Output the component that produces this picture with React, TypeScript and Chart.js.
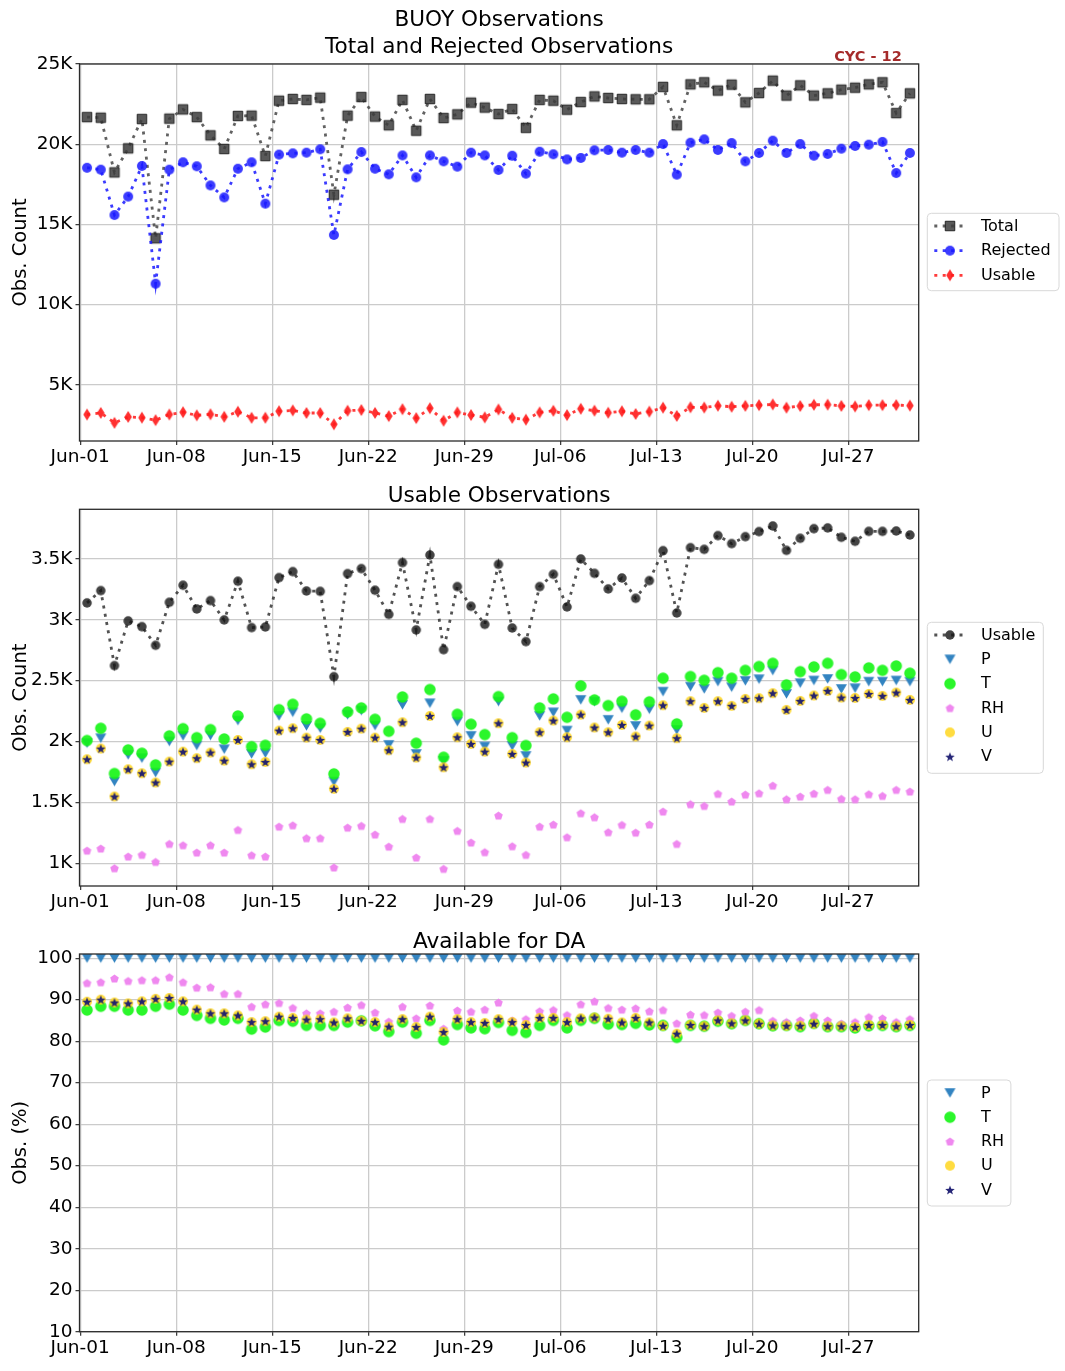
import React, { useEffect, useRef } from 'react';
import { Chart, registerables } from 'chart.js';

Chart.register(...registerables);

const FONT = '"DejaVu Sans", "Liberation Sans", sans-serif';
const PAGE_W = 1065;
const PLOT_LEFT = 79.5;
const PLOT_RIGHT = 918.7;
const GRID = '#cbcbcb';

// 12Z analysis cycles, expressed as days after Jun-01 00Z
const cycleDays: number[] = Array.from({ length: 61 }, (_, i) => i + 0.5);
const dayRange: [number, number] = [-0.05, 61.14];

const dateTickDays = [0, 7, 14, 21, 28, 35, 42, 49, 56];
const dateTickLabels = ['Jun-01', 'Jun-08', 'Jun-15', 'Jun-22', 'Jun-29', 'Jul-06', 'Jul-13', 'Jul-20', 'Jul-27'];

const totalTicks = [5000, 10000, 15000, 20000, 25000];
const usableTicks = [1000, 1500, 2000, 2500, 3000, 3500];
const percentTicks = [10, 20, 30, 40, 50, 60, 70, 80, 90, 100];

// ---- counts per cycle ----
const totalObs = [
  21690, 21650, 18240, 19740, 21570, 14130, 21590, 22170, 21690, 20550,
  19700, 21760, 21780, 19260, 22710, 22820, 22760, 22900, 16850, 21780,
  22940, 21720, 21180, 22760, 20840, 22820, 21630, 21860, 22590, 22280,
  21880, 22190, 21020, 22760, 22710, 22150, 22630, 22980, 22880, 22820,
  22800, 22800, 23570, 21180, 23730, 23860, 23340, 23710, 22610, 23190,
  23960, 23030, 23670, 23030, 23170, 23400, 23520, 23730, 23860, 21940, 23170,
];
const rejectedObs = [
  18530, 18410, 15580, 16730, 18640, 11300, 18410, 18870, 18620, 17430,
  16680, 18470, 18870, 16290, 19350, 19430, 19470, 19680, 14340, 18430,
  19510, 18470, 18120, 19300, 17930, 19300, 18930, 18600, 19470, 19300,
  18390, 19280, 18160, 19530, 19370, 19050, 19140, 19620, 19640, 19470,
  19640, 19470, 20010, 18100, 20090, 20300, 19640, 20070, 18930, 19450,
  20220, 19450, 20010, 19280, 19390, 19720, 19890, 19970, 20140, 18200, 19450,
];
const usableObs = [
  3139, 3240, 2624, 2991, 2944, 2791, 3144, 3284, 3089, 3158,
  2999, 3317, 2936, 2941, 3347, 3396, 3237, 3234, 2533, 3380,
  3421, 3243, 3045, 3470, 2917, 3533, 2755, 3273, 3111, 2963,
  3456, 2933, 2821, 3273, 3374, 3106, 3500, 3382, 3254, 3344,
  3177, 3322, 3568, 3056, 3593, 3579, 3692, 3626, 3683, 3725,
  3771, 3571, 3670, 3749, 3755, 3678, 3645, 3727, 3727, 3730, 3697,
];
const pCount = [
  1986, 2027, 1671, 1890, 1863, 1745, 2000, 2046, 1967, 2049,
  1937, 2172, 1898, 1904, 2210, 2240, 2128, 2109, 1671, 2219,
  2254, 2131, 1972, 2301, 1898, 2314, 1841, 2164, 2046, 1959,
  2328, 1964, 1882, 2210, 2240, 2090, 2342, 2328, 2178, 2273,
  2128, 2265, 2410, 2095, 2451, 2432, 2492, 2446, 2498, 2512,
  2583, 2391, 2479, 2501, 2514, 2432, 2438, 2492, 2492, 2501, 2492,
];
const tCount = [
  2008, 2109, 1737, 1931, 1904, 1808, 2046, 2106, 2032, 2098,
  2021, 2210, 1958, 1969, 2262, 2306, 2186, 2150, 1734, 2243,
  2276, 2183, 2084, 2366, 1986, 2427, 1871, 2224, 2142, 2057,
  2369, 2032, 1967, 2276, 2350, 2199, 2457, 2342, 2295, 2331,
  2219, 2326, 2520, 2145, 2534, 2503, 2566, 2520, 2585, 2616,
  2643, 2465, 2574, 2613, 2643, 2550, 2531, 2605, 2585, 2621, 2561,
];
const rhCount = [
  1104, 1121, 959, 1055, 1069, 1011, 1159, 1148, 1088, 1148,
  1088, 1274, 1066, 1055, 1301, 1312, 1206, 1206, 965, 1293,
  1307, 1236, 1137, 1364, 1047, 1364, 954, 1266, 1170, 1091,
  1392, 1140, 1069, 1301, 1318, 1214, 1411, 1378, 1255, 1315,
  1252, 1318, 1425, 1159, 1485, 1471, 1570, 1507, 1564, 1575,
  1638, 1526, 1548, 1572, 1603, 1529, 1526, 1567, 1553, 1603, 1589,
];
// U and V winds arrive together, so their counts are identical
const windCount = [
  1854, 1942, 1548, 1772, 1739, 1663, 1835, 1917, 1863, 1909,
  1843, 2013, 1813, 1832, 2090, 2109, 2032, 2013, 1611, 2079,
  2106, 2032, 1928, 2158, 1868, 2210, 1788, 2035, 1980, 1917,
  2150, 1898, 1827, 2076, 2172, 2035, 2221, 2115, 2076, 2136,
  2041, 2131, 2298, 2027, 2331, 2276, 2331, 2293, 2350, 2356,
  2397, 2260, 2334, 2378, 2416, 2361, 2358, 2391, 2375, 2402, 2342,
];

// ---- percentage available for DA ----
const pPct = [
  100, 100, 100, 100, 100, 100, 100, 100, 100, 100,
  100, 100, 100, 100, 100, 100, 100, 100, 100, 100,
  100, 100, 100, 100, 100, 100, 100, 100, 100, 100,
  100, 100, 100, 100, 100, 100, 100, 100, 100, 100,
  100, 100, 100, 100, 100, 100, 100, 100, 100, 100,
  100, 100, 100, 100, 100, 100, 100, 100, 100, 100, 100,
];
const tPct = [
  87.5, 88.4, 88.4, 87.5, 87.5, 88.4, 88.9, 87.5, 86.2, 85.5,
  85.1, 85.5, 82.9, 83.4, 85.0, 84.8, 83.8, 83.8, 83.8, 84.6,
  84.9, 83.7, 82.3, 84.6, 81.9, 85.0, 80.3, 84.0, 83.2, 83.0,
  84.5, 82.6, 82.1, 83.8, 85.0, 83.2, 85.0, 85.5, 84.1, 84.0,
  84.3, 83.9, 83.8, 80.9, 83.8, 83.6, 84.8, 84.2, 85.0, 84.2,
  83.7, 83.8, 83.5, 84.3, 83.5, 83.5, 83.2, 83.7, 83.8, 83.5, 83.8,
];
const rhPct = [
  94.0, 94.2, 95.1, 94.5, 94.7, 94.7, 95.4, 94.2, 92.9, 93.0,
  91.4, 91.4, 88.3, 88.9, 89.2, 88.0, 86.7, 86.7, 87.1, 88.1,
  88.7, 86.9, 84.7, 88.3, 85.5, 88.6, 83.0, 87.4, 87.1, 87.6,
  89.3, 85.0, 85.3, 87.2, 87.5, 86.3, 88.9, 89.6, 88.0, 87.6,
  87.9, 87.2, 87.5, 84.3, 86.4, 86.3, 86.9, 86.1, 87.1, 87.5,
  84.9, 84.6, 85.0, 86.1, 85.0, 84.2, 84.6, 85.8, 85.5, 84.6, 85.3,
];
const windPct = [
  89.5, 90.0, 89.3, 89.1, 89.6, 90.2, 90.4, 89.6, 87.6, 86.7,
  86.7, 86.2, 84.6, 84.8, 85.9, 85.6, 85.2, 85.3, 84.5, 85.5,
  84.9, 84.6, 83.5, 85.3, 83.4, 85.9, 82.2, 85.3, 84.6, 84.4,
  85.3, 84.6, 83.9, 85.6, 85.6, 84.6, 85.5, 85.7, 85.4, 84.5,
  85.6, 84.5, 83.7, 81.8, 83.9, 83.6, 85.0, 84.3, 85.0, 84.2,
  83.8, 83.7, 83.7, 84.2, 83.6, 83.6, 83.4, 83.9, 83.9, 83.6, 83.9,
];

// ---- marker glyphs rendered once into small canvases ----
function marker(shape: string, w: number, h: number, fill: string, edge?: string, edgeWidth = 1): HTMLCanvasElement {
  const pad = 2;
  const cw = Math.ceil(w + pad * 2);
  const ch = Math.ceil(h + pad * 2);
  const c = document.createElement('canvas');
  c.width = cw;
  c.height = ch;
  const g = c.getContext('2d') as CanvasRenderingContext2D;
  g.translate(cw / 2, ch / 2);
  const rx = w / 2;
  const ry = h / 2;
  g.beginPath();
  if (shape === 'circle') {
    g.ellipse(0, 0, rx, ry, 0, 0, Math.PI * 2);
  } else if (shape === 'square') {
    g.rect(-rx, -ry, w, h);
  } else if (shape === 'thinDiamond') {
    g.moveTo(0, -ry);
    g.lineTo(rx, 0);
    g.lineTo(0, ry);
    g.lineTo(-rx, 0);
    g.closePath();
  } else if (shape === 'triangleDown') {
    g.moveTo(-rx, -ry);
    g.lineTo(rx, -ry);
    g.lineTo(0, ry);
    g.closePath();
  } else if (shape === 'pentagon') {
    for (let k = 0; k < 5; k++) {
      const a = -Math.PI / 2 + (k * 2 * Math.PI) / 5;
      const px = rx * Math.cos(a);
      const py = ry * Math.sin(a) + ry * 0.1;
      if (k === 0) g.moveTo(px, py);
      else g.lineTo(px, py);
    }
    g.closePath();
  } else if (shape === 'star') {
    for (let k = 0; k < 10; k++) {
      const a = -Math.PI / 2 + (k * Math.PI) / 5;
      const r = k % 2 === 0 ? 1 : 0.42;
      const px = rx * r * Math.cos(a);
      const py = ry * r * Math.sin(a) + ry * 0.1;
      if (k === 0) g.moveTo(px, py);
      else g.lineTo(px, py);
    }
    g.closePath();
  }
  g.fillStyle = fill;
  g.fill();
  if (edge) {
    g.lineWidth = edgeWidth;
    g.strokeStyle = edge;
    g.stroke();
  }
  return c;
}

const DOTS = [3, 5.4];

function series(label: string, values: number[], glyph: HTMLCanvasElement, lineColor?: string) {
  return {
    label,
    data: values.map((y, i) => ({ x: cycleDays[i], y })),
    pointStyle: glyph,
    pointRadius: 5,
    pointHoverRadius: 5,
    showLine: !!lineColor,
    borderColor: lineColor || 'rgba(0,0,0,0)',
    backgroundColor: lineColor || 'rgba(0,0,0,0)',
    borderWidth: 2.8,
    borderDash: DOTS,
    borderCapStyle: 'butt',
    tension: 0,
    fill: false,
  };
}

interface TitleSpec {
  text: string;
  y: number;
  size: number;
  x?: number;
  bold?: boolean;
  color?: string;
}

interface PanelSpec {
  height: number;
  plotTop: number;
  xAxisH: number;
  yRange: [number, number];
  yTicks: number[];
  yFmt: (v: number) => string;
  yTitle: string;
  datasets: any[];
  titles: TitleSpec[];
  legend: { top: number; width: number; height: number; rowTop: number; rowStep: number };
}

function decor(spec: PanelSpec) {
  return {
    id: 'panelDecor',
    afterDatasetsDraw(chart: any) {
      const { ctx, chartArea: a } = chart;
      ctx.save();
      ctx.strokeStyle = '#2a2a2a';
      ctx.lineWidth = 1.3;
      ctx.strokeRect(a.left, a.top, a.right - a.left, a.bottom - a.top);
      ctx.restore();
    },
    afterDraw(chart: any) {
      const { ctx, chartArea: a } = chart;
      ctx.save();
      ctx.textBaseline = 'alphabetic';
      ctx.textAlign = 'center';
      for (const t of spec.titles) {
        ctx.font = `${t.bold ? 'bold ' : ''}${t.size}px ${FONT}`;
        ctx.fillStyle = t.color || '#000';
        ctx.fillText(t.text, t.x ?? (a.left + a.right) / 2, t.y);
      }

      const L = spec.legend;
      const left = 927.3;
      ctx.beginPath();
      ctx.roundRect(left, L.top, L.width, L.height, 4);
      ctx.fillStyle = 'rgba(255,255,255,0.85)';
      ctx.fill();
      ctx.strokeStyle = '#d8d8d8';
      ctx.lineWidth = 1;
      ctx.stroke();

      ctx.font = `16px ${FONT}`;
      ctx.textAlign = 'left';
      ctx.textBaseline = 'middle';
      chart.data.datasets.forEach((ds: any, i: number) => {
        const y = L.rowTop + i * L.rowStep;
        if (ds.showLine) {
          ctx.save();
          ctx.setLineDash(ds.borderDash);
          ctx.lineCap = 'butt';
          ctx.strokeStyle = ds.borderColor;
          ctx.lineWidth = ds.borderWidth;
          ctx.beginPath();
          ctx.moveTo(934.3, y);
          ctx.lineTo(966.7, y);
          ctx.stroke();
          ctx.restore();
        }
        const img = ds.pointStyle as HTMLCanvasElement;
        ctx.drawImage(img, 950 - img.width / 2, y - img.height / 2);
        ctx.fillStyle = '#000';
        ctx.fillText(ds.label, 981, y + 0.5);
      });
      ctx.restore();
    },
  };
}

function buildChart(canvas: HTMLCanvasElement, spec: PanelSpec) {
  const n = spec.datasets.length;
  const tickFont = { family: FONT, size: 18.5 };
  return new Chart(canvas, {
    type: 'line',
    data: { datasets: spec.datasets.map((d, i) => ({ ...d, order: n - i })) },
    options: {
      responsive: false,
      animation: false,
      devicePixelRatio: 1,
      events: [],
      layout: { padding: { top: spec.plotTop, right: PAGE_W - PLOT_RIGHT, bottom: 0, left: 0 } },
      plugins: { legend: { display: false }, tooltip: { enabled: false }, title: { display: false } },
      scales: {
        x: {
          type: 'linear',
          min: dayRange[0],
          max: dayRange[1],
          afterBuildTicks: (s: any) => {
            s.ticks = dateTickDays.map((v) => ({ value: v }));
          },
          afterFit: (s: any) => {
            s.height = spec.xAxisH;
          },
          ticks: {
            autoSkip: false,
            maxRotation: 0,
            minRotation: 0,
            padding: 1.5,
            color: '#000',
            font: tickFont,
            callback: (_v: any, idx: number) => dateTickLabels[idx] ?? '',
          },
          grid: { color: GRID, lineWidth: 1.3, tickLength: 4, tickColor: '#333', tickWidth: 1.2 },
          border: { display: false },
        },
        y: {
          type: 'linear',
          min: spec.yRange[0],
          max: spec.yRange[1],
          afterBuildTicks: (s: any) => {
            s.ticks = spec.yTicks.map((v) => ({ value: v }));
          },
          afterFit: (s: any) => {
            s.width = PLOT_LEFT;
          },
          ticks: {
            padding: 3,
            color: '#000',
            font: tickFont,
            callback: (v: any) => spec.yFmt(Number(v)),
          },
          grid: { color: GRID, lineWidth: 1.3, tickLength: 4, tickColor: '#333', tickWidth: 1.2 },
          border: { display: false },
          title: {
            display: true,
            text: spec.yTitle,
            color: '#000',
            font: { family: FONT, size: 19.5 },
            padding: { top: 9.5, bottom: 0 },
          },
        },
      },
    } as any,
    plugins: [decor(spec) as any],
  });
}

const kFmt = (v: number) => `${v / 1000}K`;

function panelSpecs(): PanelSpec[] {
  const pGlyph = marker('triangleDown', 11, 9.5, 'rgba(40,125,190,0.95)');
  const tGlyph = marker('circle', 11.5, 11.5, 'rgba(20,245,20,0.9)');
  const rhGlyph = marker('pentagon', 9, 9, 'rgba(238,130,238,0.95)');
  const uGlyph = marker('circle', 10, 10, 'rgba(255,214,30,0.85)');
  const vGlyph = marker('star', 10, 10, 'rgba(25,25,112,0.95)');

  return [
    {
      height: 475,
      plotTop: 64,
      xAxisH: 34,
      yRange: [1490, 25000],
      yTicks: totalTicks,
      yFmt: kFmt,
      yTitle: 'Obs. Count',
      datasets: [
        series('Total', totalObs, marker('square', 9.5, 9.5, 'rgba(60,60,60,0.85)', 'rgba(25,25,25,0.9)', 1), 'rgba(70,70,70,0.85)'),
        series('Rejected', rejectedObs, marker('circle', 10, 10, 'rgba(25,25,255,0.85)'), 'rgba(25,25,255,0.85)'),
        series('Usable', usableObs, marker('thinDiamond', 7.5, 12, 'rgba(255,25,25,0.9)'), 'rgba(255,25,25,0.85)'),
      ],
      titles: [
        { text: 'BUOY Observations', y: 26, size: 21.6 },
        { text: 'Total and Rejected Observations', y: 53.3, size: 21.6 },
        { text: 'CYC - 12', y: 60.5, size: 14.5, bold: true, color: '#a52a2a', x: 868 },
      ],
      legend: { top: 213.3, width: 131.7, height: 77.4, rowTop: 226, rowStep: 24.65 },
    },
    {
      height: 445,
      plotTop: 34.3,
      xAxisH: 34,
      yRange: [813, 3908],
      yTicks: usableTicks,
      yFmt: kFmt,
      yTitle: 'Obs. Count',
      datasets: [
        series('Usable', usableObs, marker('circle', 9.5, 9.5, 'rgba(20,20,20,0.8)'), 'rgba(40,40,40,0.8)'),
        series('P', pCount, pGlyph),
        series('T', tCount, tGlyph),
        series('RH', rhCount, rhGlyph),
        series('U', windCount, uGlyph),
        series('V', windCount, vGlyph),
      ],
      titles: [{ text: 'Usable Observations', y: 26.7, size: 21.6 }],
      legend: { top: 147.3, width: 116, height: 151, rowTop: 160, rowStep: 24.35 },
    },
    {
      height: 451,
      plotTop: 34,
      xAxisH: 39.3,
      yRange: [10, 101],
      yTicks: percentTicks,
      yFmt: (v: number) => `${v}`,
      yTitle: 'Obs. (%)',
      datasets: [
        series('P', pPct, pGlyph),
        series('T', tPct, tGlyph),
        series('RH', rhPct, rhGlyph),
        series('U', windPct, uGlyph),
        series('V', windPct, vGlyph),
      ],
      titles: [{ text: 'Available for DA', y: 28.3, size: 21.6 }],
      legend: { top: 160, width: 83.6, height: 126, rowTop: 173, rowStep: 24.25 },
    },
  ];
}

const panelTops = [0, 475, 920];
const panelHeights = [475, 445, 451];

export default function App() {
  const refs = [useRef<HTMLCanvasElement>(null), useRef<HTMLCanvasElement>(null), useRef<HTMLCanvasElement>(null)];

  useEffect(() => {
    const specs = panelSpecs();
    const charts = specs.map((spec, i) => buildChart(refs[i].current as HTMLCanvasElement, spec));
    return () => charts.forEach((c) => c.destroy());
  }, []);

  return (
    <div style={{ position: 'absolute', left: 0, top: 0, width: PAGE_W, height: 1371, background: '#fff', overflow: 'hidden' }}>
      {panelTops.map((top, i) => (
        <canvas
          key={i}
          ref={refs[i]}
          width={PAGE_W}
          height={panelHeights[i]}
          style={{ position: 'absolute', left: 0, top, width: PAGE_W, height: panelHeights[i] }}
        />
      ))}
    </div>
  );
}
